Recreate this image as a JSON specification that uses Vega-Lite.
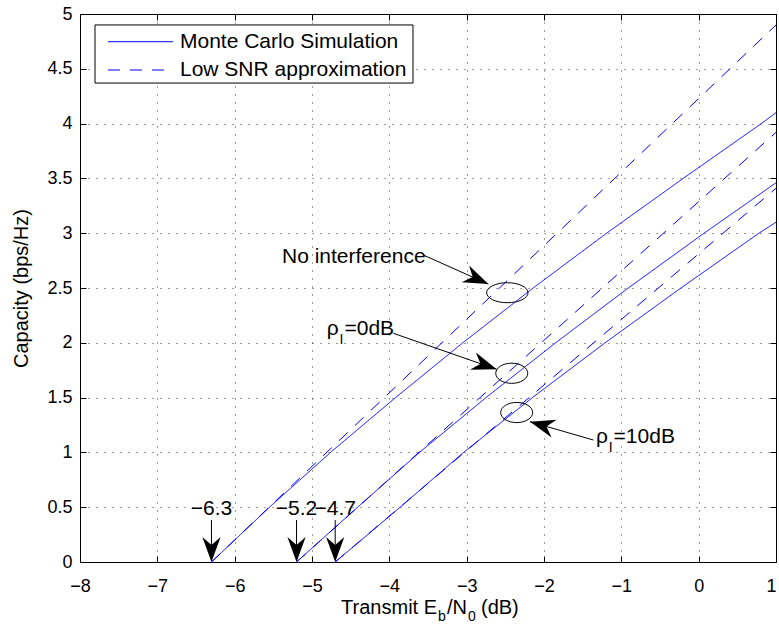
{
  "$schema": "https://vega.github.io/schema/vega-lite/v6.json",
  "width": 696,
  "height": 548,
  "autosize": "none",
  "padding": {"left": 80, "top": 14, "right": 3, "bottom": 66},
  "background": "white",
  "config": {
    "font": "Liberation Sans",
    "view": {"stroke": "#000", "strokeWidth": 1},
    "axis": {
      "labelFont": "Liberation Sans",
      "labelColor": "#000",
      "titleFont": "Liberation Sans",
      "titleColor": "#000",
      "titleFontWeight": "normal",
      "tickColor": "#000",
      "tickWidth": 1,
      "domain": false,
      "labelFlush": false,
      "labelOverlap": false
    },
    "text": {"font": "Liberation Sans", "color": "#000"}
  },
  "datasets": {
    "curves": [
      {"series": "No interference / simulation", "kind": "Monte Carlo Simulation", "x": -6.3, "y": 0},
      {"series": "No interference / simulation", "kind": "Monte Carlo Simulation", "x": -5.55, "y": 0.5},
      {"series": "No interference / simulation", "kind": "Monte Carlo Simulation", "x": -4.76, "y": 1.0},
      {"series": "No interference / simulation", "kind": "Monte Carlo Simulation", "x": -3.92, "y": 1.5},
      {"series": "No interference / simulation", "kind": "Monte Carlo Simulation", "x": -3.05, "y": 2.0},
      {"series": "No interference / simulation", "kind": "Monte Carlo Simulation", "x": -2.14, "y": 2.5},
      {"series": "No interference / simulation", "kind": "Monte Carlo Simulation", "x": -1.19, "y": 3.0},
      {"series": "No interference / simulation", "kind": "Monte Carlo Simulation", "x": -0.2, "y": 3.5},
      {"series": "No interference / simulation", "kind": "Monte Carlo Simulation", "x": 0.81, "y": 4.0},
      {"series": "No interference / simulation", "kind": "Monte Carlo Simulation", "x": 1.0, "y": 4.1},
      {"series": "No interference / low SNR", "kind": "Low SNR approximation", "x": -6.3, "y": 0},
      {"series": "No interference / low SNR", "kind": "Low SNR approximation", "x": 1.0, "y": 4.9},
      {"series": "rho_I 0 dB / simulation", "kind": "Monte Carlo Simulation", "x": -5.2, "y": 0},
      {"series": "rho_I 0 dB / simulation", "kind": "Monte Carlo Simulation", "x": -4.41, "y": 0.5},
      {"series": "rho_I 0 dB / simulation", "kind": "Monte Carlo Simulation", "x": -3.61, "y": 1.0},
      {"series": "rho_I 0 dB / simulation", "kind": "Monte Carlo Simulation", "x": -2.75, "y": 1.5},
      {"series": "rho_I 0 dB / simulation", "kind": "Monte Carlo Simulation", "x": -1.85, "y": 2.0},
      {"series": "rho_I 0 dB / simulation", "kind": "Monte Carlo Simulation", "x": -0.91, "y": 2.5},
      {"series": "rho_I 0 dB / simulation", "kind": "Monte Carlo Simulation", "x": 0.07, "y": 3.0},
      {"series": "rho_I 0 dB / simulation", "kind": "Monte Carlo Simulation", "x": 1.0, "y": 3.46},
      {"series": "rho_I 0 dB / low SNR", "kind": "Low SNR approximation", "x": -5.2, "y": 0},
      {"series": "rho_I 0 dB / low SNR", "kind": "Low SNR approximation", "x": 1.0, "y": 3.92},
      {"series": "rho_I 10 dB / simulation", "kind": "Monte Carlo Simulation", "x": -4.7, "y": 0},
      {"series": "rho_I 10 dB / simulation", "kind": "Monte Carlo Simulation", "x": -3.86, "y": 0.5},
      {"series": "rho_I 10 dB / simulation", "kind": "Monte Carlo Simulation", "x": -3.04, "y": 1.0},
      {"series": "rho_I 10 dB / simulation", "kind": "Monte Carlo Simulation", "x": -2.15, "y": 1.5},
      {"series": "rho_I 10 dB / simulation", "kind": "Monte Carlo Simulation", "x": -1.21, "y": 2.0},
      {"series": "rho_I 10 dB / simulation", "kind": "Monte Carlo Simulation", "x": -0.23, "y": 2.5},
      {"series": "rho_I 10 dB / simulation", "kind": "Monte Carlo Simulation", "x": 0.78, "y": 3.0},
      {"series": "rho_I 10 dB / simulation", "kind": "Monte Carlo Simulation", "x": 1.0, "y": 3.1},
      {"series": "rho_I 10 dB / low SNR", "kind": "Low SNR approximation", "x": -4.7, "y": 0},
      {"series": "rho_I 10 dB / low SNR", "kind": "Low SNR approximation", "x": 1.0, "y": 3.41}
    ],
    "legendBox": [{"x": -7.806, "x2": -3.694, "y": 4.9, "y2": 4.37}],
    "legendEntries": [
      {"kind": "Monte Carlo Simulation", "x": -7.638, "x2": -6.797, "tx": -6.707, "y": 4.747},
      {"kind": "Low SNR approximation", "x": -7.638, "x2": -6.797, "tx": -6.707, "y": 4.489}
    ],
    "notes": [
      {"text": "No interference", "x": -5.388, "y": 2.728},
      {"text": "ρ", "x": -4.81, "y": 2.071},
      {"text": "=0dB", "x": -4.58, "y": 2.071},
      {"text": "ρ", "x": -1.327, "y": 1.083},
      {"text": "=10dB", "x": -1.1, "y": 1.083}
    ],
    "noteSubscripts": [
      {"text": "I", "x": -4.645, "y": 2.071},
      {"text": "I", "x": -1.162, "y": 1.083}
    ],
    "thresholds": [{"x": -6.3}, {"x": -5.2}, {"x": -4.7}],
    "pointers": [
      {"target": "No interference", "x": -3.561, "y": 2.801, "x2": -2.72, "y2": 2.536},
      {"target": "rho_I 0 dB", "x": -3.949, "y": 2.087, "x2": -2.612, "y2": 1.758},
      {"target": "rho_I 10 dB", "x": -1.362, "y": 1.113, "x2": -2.181, "y2": 1.28}
    ],
    "bigEllipse": [{"x": -2.474, "y": 2.457}],
    "smallEllipses": [{"x": -2.417, "y": 1.722}, {"x": -2.353, "y": 1.364}],
    "titleHead": [{"text": "Transmit E", "x": -3.383}],
    "titleTail": [{"text": "/N", "x": -3.254}, {"text": "(dB)", "x": -2.815}],
    "titleSubs": [{"text": "b", "x": -3.37}, {"text": "0", "x": -2.983}]
  },
  "resolve": {"axis": {"x": "independent", "y": "independent"}},
  "layer": [
    {
      "data": {"name": "curves"},
      "mark": {"type": "line", "color": "#0000ff", "strokeWidth": 1},
      "encoding": {
        "x": {
          "field": "x", "type": "quantitative",
          "scale": {"domain": [-8, 1], "nice": false, "zero": false},
          "axis": {
            "orient": "bottom", "title": null,
            "values": [-8, -7, -6, -5, -4, -3, -2, -1, 0, 1],
            "grid": true, "gridColor": "#000", "gridOpacity": 0.75, "gridDash": [1, 7],
            "tickSize": -6, "labelFontSize": 18, "labelPadding": 21,
            "labelAlign": {"condition": {"test": "datum.value === 1", "value": "right"}, "value": "center"},
            "labelDx": {"condition": {"test": "datum.value === 1", "value": 3}, "value": 0}
          }
        },
        "y": {
          "field": "y", "type": "quantitative",
          "scale": {"domain": [0, 5], "nice": false, "zero": false},
          "axis": {
            "orient": "left", "title": "Capacity (bps/Hz)", "titleFontSize": 20, "titlePadding": 15,
            "values": [0, 0.5, 1, 1.5, 2, 2.5, 3, 3.5, 4, 4.5, 5], "format": "~g",
            "grid": true, "gridColor": "#000", "gridOpacity": 0.75, "gridDash": [1, 7],
            "tickSize": -6, "labelFontSize": 18, "labelPadding": 14
          }
        },
        "strokeDash": {
          "field": "kind", "type": "nominal",
          "scale": {"domain": ["Monte Carlo Simulation", "Low SNR approximation"], "range": [[1, 0], [12, 10]]},
          "legend": null
        },
        "detail": {"field": "series"}
      }
    },
    {
      "data": {"values": [{"x": -8, "y": 0}]},
      "mark": {"type": "point", "opacity": 0},
      "encoding": {
        "x": {
          "field": "x", "type": "quantitative",
          "axis": {"orient": "top", "title": null, "labels": false, "grid": false, "tickSize": -6,
                   "values": [-8, -7, -6, -5, -4, -3, -2, -1, 0, 1]}
        },
        "y": {
          "field": "y", "type": "quantitative",
          "axis": {"orient": "right", "title": null, "labels": false, "grid": false, "tickSize": -6,
                   "values": [0, 0.5, 1, 1.5, 2, 2.5, 3, 3.5, 4, 4.5, 5]}
        }
      }
    },
    {
      "data": {"name": "legendBox"},
      "mark": {"type": "rect", "fill": "white", "stroke": "#000", "strokeWidth": 1},
      "encoding": {
        "x": {"field": "x", "type": "quantitative", "axis": null},
        "x2": {"field": "x2"},
        "y": {"field": "y", "type": "quantitative", "axis": null},
        "y2": {"field": "y2"}
      }
    },
    {
      "data": {"name": "legendEntries"},
      "mark": {"type": "rule", "color": "#0000ff", "strokeWidth": 1},
      "encoding": {
        "x": {"field": "x", "type": "quantitative", "axis": null},
        "x2": {"field": "x2"},
        "y": {"field": "y", "type": "quantitative", "axis": null},
        "strokeDash": {"field": "kind", "type": "nominal", "legend": null}
      }
    },
    {
      "data": {"name": "legendEntries"},
      "mark": {"type": "text", "align": "left", "baseline": "middle", "fontSize": 21},
      "encoding": {
        "x": {"field": "tx", "type": "quantitative", "axis": null},
        "y": {"field": "y", "type": "quantitative", "axis": null},
        "text": {"field": "kind"}
      }
    },
    {
      "data": {"name": "bigEllipse"},
      "mark": {"type": "point", "shape": "M -1 0 A 1 0.483 0 1 1 1 0 A 1 0.483 0 1 1 -1 0 Z", "size": 1714, "filled": false, "stroke": "#000", "strokeWidth": 1, "opacity": 1},
      "encoding": {
        "x": {"field": "x", "type": "quantitative", "axis": null},
        "y": {"field": "y", "type": "quantitative", "axis": null}
      }
    },
    {
      "data": {"name": "smallEllipses"},
      "mark": {"type": "point", "shape": "M -1 0 A 1 0.63 0 1 1 1 0 A 1 0.63 0 1 1 -1 0 Z", "size": 1024, "filled": false, "stroke": "#000", "strokeWidth": 1, "opacity": 1},
      "encoding": {
        "x": {"field": "x", "type": "quantitative", "axis": null},
        "y": {"field": "y", "type": "quantitative", "axis": null}
      }
    },
    {
      "data": {"name": "pointers"},
      "mark": {"type": "rule", "color": "#000", "strokeWidth": 1},
      "encoding": {
        "x": {"field": "x", "type": "quantitative", "axis": null},
        "y": {"field": "y", "type": "quantitative", "axis": null},
        "x2": {"field": "x2"},
        "y2": {"field": "y2"}
      }
    },
    {
      "data": {"name": "pointers"},
      "transform": [{"filter": "datum.target === 'No interference'"}],
      "mark": {"type": "point", "shape": "M 0 0 L 0.8 2.2 L 0 1.5 L -0.8 2.2 Z", "size": 520, "filled": true, "color": "#000", "opacity": 1, "angle": 114},
      "encoding": {
        "x": {"field": "x2", "type": "quantitative", "axis": null},
        "y": {"field": "y2", "type": "quantitative", "axis": null}
      }
    },
    {
      "data": {"name": "pointers"},
      "transform": [{"filter": "datum.target === 'rho_I 0 dB'"}],
      "mark": {"type": "point", "shape": "M 0 0 L 0.8 2.2 L 0 1.5 L -0.8 2.2 Z", "size": 520, "filled": true, "color": "#000", "opacity": 1, "angle": 109},
      "encoding": {
        "x": {"field": "x2", "type": "quantitative", "axis": null},
        "y": {"field": "y2", "type": "quantitative", "axis": null}
      }
    },
    {
      "data": {"name": "pointers"},
      "transform": [{"filter": "datum.target === 'rho_I 10 dB'"}],
      "mark": {"type": "point", "shape": "M 0 0 L 0.8 2.2 L 0 1.5 L -0.8 2.2 Z", "size": 520, "filled": true, "color": "#000", "opacity": 1, "angle": 286},
      "encoding": {
        "x": {"field": "x2", "type": "quantitative", "axis": null},
        "y": {"field": "y2", "type": "quantitative", "axis": null}
      }
    },
    {
      "data": {"name": "thresholds"},
      "mark": {"type": "rule", "color": "#000", "strokeWidth": 1},
      "encoding": {
        "x": {"field": "x", "type": "quantitative", "axis": null},
        "y": {"datum": 0.383, "type": "quantitative", "axis": null},
        "y2": {"datum": 0.02}
      }
    },
    {
      "data": {"name": "thresholds"},
      "mark": {"type": "point", "shape": "M 0 0 L 0.8 2.2 L 0 1.5 L -0.8 2.2 Z", "size": 520, "filled": true, "color": "#000", "opacity": 1, "angle": 180},
      "encoding": {
        "x": {"field": "x", "type": "quantitative", "axis": null},
        "y": {"datum": 0, "type": "quantitative", "axis": null}
      }
    },
    {
      "data": {"name": "thresholds"},
      "mark": {"type": "text", "align": "center", "baseline": "alphabetic", "fontSize": 21},
      "encoding": {
        "x": {"field": "x", "type": "quantitative", "axis": null},
        "y": {"datum": 0.429, "type": "quantitative", "axis": null},
        "text": {"field": "x", "type": "quantitative", "format": ".1f"}
      }
    },
    {
      "data": {"name": "notes"},
      "mark": {"type": "text", "align": "left", "baseline": "alphabetic", "fontSize": 21},
      "encoding": {
        "x": {"field": "x", "type": "quantitative", "axis": null},
        "y": {"field": "y", "type": "quantitative", "axis": null},
        "text": {"field": "text"}
      }
    },
    {
      "data": {"name": "noteSubscripts"},
      "mark": {"type": "text", "align": "left", "baseline": "alphabetic", "fontSize": 14, "dy": 9},
      "encoding": {
        "x": {"field": "x", "type": "quantitative", "axis": null},
        "y": {"field": "y", "type": "quantitative", "axis": null},
        "text": {"field": "text"}
      }
    },
    {
      "data": {"name": "titleHead"},
      "mark": {"type": "text", "align": "right", "baseline": "alphabetic", "fontSize": 20},
      "encoding": {
        "x": {"field": "x", "type": "quantitative", "axis": null},
        "y": {"datum": -0.47, "type": "quantitative", "axis": null},
        "text": {"field": "text"}
      }
    },
    {
      "data": {"name": "titleTail"},
      "mark": {"type": "text", "align": "left", "baseline": "alphabetic", "fontSize": 20},
      "encoding": {
        "x": {"field": "x", "type": "quantitative", "axis": null},
        "y": {"datum": -0.47, "type": "quantitative", "axis": null},
        "text": {"field": "text"}
      }
    },
    {
      "data": {"name": "titleSubs"},
      "mark": {"type": "text", "align": "left", "baseline": "alphabetic", "fontSize": 14, "dy": 7},
      "encoding": {
        "x": {"field": "x", "type": "quantitative", "axis": null},
        "y": {"datum": -0.47, "type": "quantitative", "axis": null},
        "text": {"field": "text"}
      }
    }
  ]
}
